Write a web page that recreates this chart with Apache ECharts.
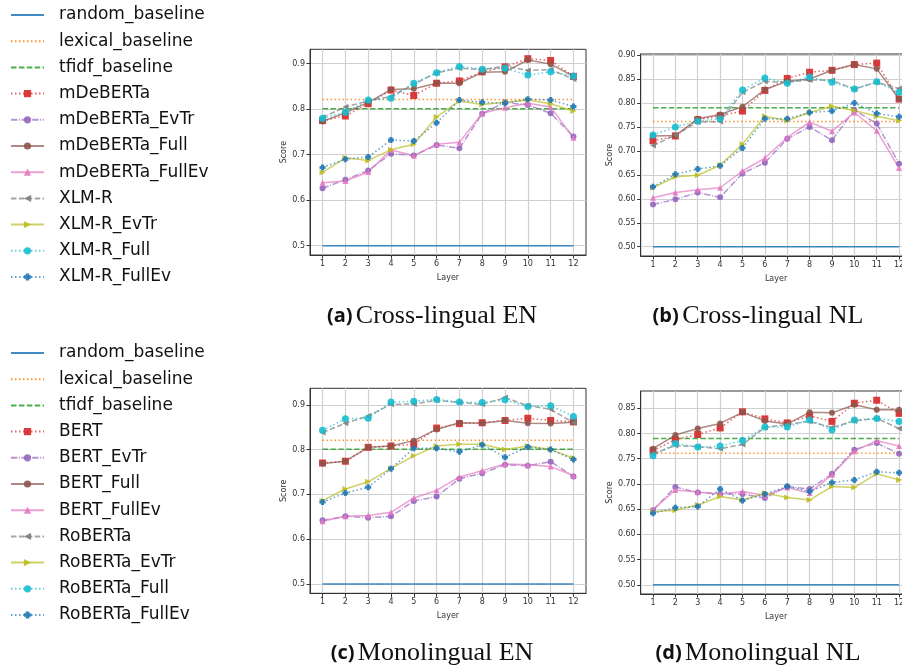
<!DOCTYPE html>
<html>
<head>
<meta charset="utf-8">
<script src="https://cdn.jsdelivr.net/npm/echarts@6/dist/echarts.min.js"></script>
<style>
  html, body { margin: 0; padding: 0; background: #fff; }
  #chart { width: 902px; height: 668px; }
</style>
</head>
<body>
<div id="chart"></div>
<script>
const layers = [1, 2, 3, 4, 5, 6, 7, 8, 9, 10, 11, 12];
const baselineNames = ['random_baseline', 'lexical_baseline', 'tfidf_baseline'];
const multiNames = ['mDeBERTa', 'mDeBERTa_EvTr', 'mDeBERTa_Full', 'mDeBERTa_FullEv', 'XLM-R', 'XLM-R_EvTr', 'XLM-R_Full', 'XLM-R_FullEv'];
const monoNames = ['BERT', 'BERT_EvTr', 'BERT_Full', 'BERT_FullEv', 'RoBERTa', 'RoBERTa_EvTr', 'RoBERTa_Full', 'RoBERTa_FullEv'];
const ticksA = [0.5, 0.6, 0.7, 0.8, 0.9];
const ticksB = [0.5, 0.55, 0.6, 0.65, 0.7, 0.75, 0.8, 0.85, 0.9];
const ticksD = [0.5, 0.55, 0.6, 0.65, 0.7, 0.75, 0.8, 0.85];

// (a) Cross-lingual EN
const baseCrossEN = [0.5, 0.821, 0.801];
const crossEN_mdeberta = [0.775, 0.785, 0.812, 0.842, 0.830, 0.857, 0.862, 0.882, 0.893, 0.911, 0.907, 0.872];
const crossEN_mdebertaEvTr = [0.626, 0.645, 0.665, 0.702, 0.698, 0.721, 0.714, 0.790, 0.815, 0.809, 0.791, 0.740];
const crossEN_mdebertaFull = [0.773, 0.792, 0.815, 0.843, 0.845, 0.857, 0.857, 0.881, 0.882, 0.908, 0.899, 0.872];
const crossEN_mdebertaFullEv = [0.638, 0.642, 0.662, 0.710, 0.698, 0.723, 0.727, 0.791, 0.803, 0.813, 0.805, 0.737];
const crossEN_xlmr = [0.782, 0.805, 0.818, 0.828, 0.855, 0.880, 0.890, 0.887, 0.895, 0.885, 0.887, 0.866];
const crossEN_xlmrEvTr = [0.661, 0.693, 0.687, 0.711, 0.723, 0.783, 0.818, 0.810, 0.815, 0.820, 0.812, 0.796];
const crossEN_xlmrFull = [0.780, 0.793, 0.820, 0.824, 0.857, 0.880, 0.894, 0.888, 0.890, 0.875, 0.882, 0.873];
const crossEN_xlmrFullEv = [0.672, 0.690, 0.695, 0.732, 0.730, 0.770, 0.820, 0.815, 0.813, 0.822, 0.820, 0.806];

// (b) Cross-lingual NL
const baseCrossNL = [0.5, 0.761, 0.790];
const crossNL_mdeberta = [0.721, 0.731, 0.765, 0.773, 0.783, 0.826, 0.851, 0.864, 0.868, 0.880, 0.883, 0.808];
const crossNL_mdebertaEvTr = [0.588, 0.599, 0.613, 0.603, 0.653, 0.675, 0.725, 0.750, 0.722, 0.785, 0.757, 0.673];
const crossNL_mdebertaFull = [0.731, 0.732, 0.767, 0.776, 0.792, 0.828, 0.845, 0.850, 0.868, 0.880, 0.871, 0.808];
const crossNL_mdebertaFullEv = [0.602, 0.613, 0.619, 0.623, 0.658, 0.685, 0.728, 0.760, 0.741, 0.780, 0.742, 0.664];
const crossNL_xlmr = [0.711, 0.733, 0.760, 0.761, 0.822, 0.845, 0.843, 0.848, 0.847, 0.829, 0.843, 0.830];
const crossNL_xlmrEvTr = [0.623, 0.646, 0.649, 0.670, 0.714, 0.772, 0.763, 0.780, 0.793, 0.784, 0.772, 0.763];
const crossNL_xlmrFull = [0.733, 0.750, 0.762, 0.767, 0.827, 0.852, 0.841, 0.854, 0.843, 0.829, 0.844, 0.822];
const crossNL_xlmrFullEv = [0.625, 0.651, 0.662, 0.669, 0.706, 0.767, 0.767, 0.780, 0.783, 0.800, 0.778, 0.771];

// (c) Monolingual EN
const baseMonoEN = [0.5, 0.821, 0.801];
const monoEN_bert = [0.770, 0.774, 0.805, 0.808, 0.812, 0.848, 0.858, 0.860, 0.865, 0.870, 0.865, 0.862];
const monoEN_bertEvTr = [0.642, 0.651, 0.648, 0.651, 0.685, 0.695, 0.735, 0.747, 0.766, 0.764, 0.773, 0.740];
const monoEN_bertFull = [0.769, 0.774, 0.805, 0.808, 0.820, 0.845, 0.860, 0.859, 0.865, 0.859, 0.858, 0.861];
const monoEN_bertFullEv = [0.640, 0.651, 0.653, 0.660, 0.692, 0.709, 0.739, 0.753, 0.768, 0.766, 0.762, 0.742];
const monoEN_roberta = [0.838, 0.859, 0.875, 0.901, 0.902, 0.910, 0.905, 0.901, 0.916, 0.898, 0.890, 0.860];
const monoEN_robertaEvTr = [0.686, 0.712, 0.728, 0.758, 0.786, 0.808, 0.812, 0.812, 0.800, 0.808, 0.800, 0.781];
const monoEN_robertaFull = [0.843, 0.869, 0.870, 0.906, 0.908, 0.912, 0.906, 0.905, 0.911, 0.896, 0.898, 0.874];
const monoEN_robertaFullEv = [0.683, 0.703, 0.716, 0.757, 0.803, 0.803, 0.795, 0.811, 0.783, 0.806, 0.800, 0.778];

// (d) Monolingual NL
const baseMonoNL = [0.5, 0.761, 0.790];
const monoNL_bert = [0.766, 0.788, 0.798, 0.811, 0.843, 0.829, 0.821, 0.835, 0.824, 0.860, 0.866, 0.840];
const monoNL_bertEvTr = [0.648, 0.694, 0.683, 0.680, 0.680, 0.672, 0.695, 0.690, 0.720, 0.768, 0.781, 0.760];
const monoNL_bertFull = [0.770, 0.797, 0.810, 0.820, 0.842, 0.825, 0.819, 0.842, 0.841, 0.857, 0.847, 0.847];
const monoNL_bertFullEv = [0.649, 0.688, 0.684, 0.680, 0.685, 0.677, 0.693, 0.682, 0.718, 0.765, 0.786, 0.775];
const monoNL_roberta = [0.760, 0.776, 0.774, 0.770, 0.778, 0.812, 0.818, 0.824, 0.812, 0.825, 0.830, 0.810];
const monoNL_robertaEvTr = [0.645, 0.648, 0.658, 0.675, 0.668, 0.682, 0.673, 0.668, 0.695, 0.693, 0.720, 0.708];
const monoNL_robertaFull = [0.756, 0.780, 0.773, 0.775, 0.786, 0.813, 0.813, 0.827, 0.807, 0.827, 0.830, 0.824];
const monoNL_robertaFullEv = [0.642, 0.653, 0.655, 0.690, 0.667, 0.680, 0.695, 0.685, 0.703, 0.708, 0.724, 0.722];

// fat plus, like matplotlib's filled 'P'
const plusPath = 'path://M1,0H3V1H4V3H3V4H1V3H0V1H1Z';
const baseStyles = [
  { color: '#1f77b4', dash: 'solid' },
  { color: '#ff7f0e', dash: [1.5, 2.5] },
  { color: '#2ca02c', dash: [5.5, 2.4] }
];
const modelStyles = [
  { color: '#d62728', dash: [1.5, 2.5], symbol: 'rect', size: 7, rotate: 0 },
  { color: '#9467bd', dash: [6.4, 1.6, 1, 1.6], symbol: 'circle', size: 6, rotate: 0 },
  { color: '#8c564b', dash: 'solid', symbol: 'circle', size: 6, rotate: 0 },
  { color: '#e377c2', dash: 'solid', symbol: 'triangle', size: 6, rotate: 0 },
  { color: '#7f7f7f', dash: [5.5, 2.4], symbol: 'triangle', size: 6, rotate: 90 },
  { color: '#bcbd22', dash: 'solid', symbol: 'triangle', size: 6, rotate: -90 },
  { color: '#17becf', dash: [1.5, 2.5], symbol: 'circle', size: 7, rotate: 0 },
  { color: '#1f77b4', dash: [1.5, 2.5], symbol: plusPath, size: 6, rotate: 0 }
];

const panels = [
  { base: baseCrossEN, names: multiNames, ymin: 0.4794, ymax: 0.9316, ticks: ticksA, dec: 1,
    models: [crossEN_mdeberta, crossEN_mdebertaEvTr, crossEN_mdebertaFull, crossEN_mdebertaFullEv, crossEN_xlmr, crossEN_xlmrEvTr, crossEN_xlmrFull, crossEN_xlmrFullEv] },
  { base: baseCrossNL, names: multiNames, ymin: 0.4807, ymax: 0.9020, ticks: ticksB, dec: 2,
    models: [crossNL_mdeberta, crossNL_mdebertaEvTr, crossNL_mdebertaFull, crossNL_mdebertaFullEv, crossNL_xlmr, crossNL_xlmrEvTr, crossNL_xlmrFull, crossNL_xlmrFullEv] },
  { base: baseMonoEN, names: monoNames, ymin: 0.4792, ymax: 0.9368, ticks: ticksA, dec: 1,
    models: [monoEN_bert, monoEN_bertEvTr, monoEN_bertFull, monoEN_bertFullEv, monoEN_roberta, monoEN_robertaEvTr, monoEN_robertaFull, monoEN_robertaFullEv] },
  { base: baseMonoNL, names: monoNames, ymin: 0.4817, ymax: 0.8843, ticks: ticksD, dec: 2,
    models: [monoNL_bert, monoNL_bertEvTr, monoNL_bertFull, monoNL_bertFullEv, monoNL_roberta, monoNL_robertaEvTr, monoNL_robertaFull, monoNL_robertaFullEv] }
];

const grids = [
  { left: 310, top: 49.3, width: 276, height: 205.7 },
  { left: 640.7, top: 54, width: 270.7, height: 202 },
  { left: 310, top: 388.3, width: 276, height: 205 },
  { left: 640.7, top: 391, width: 270.7, height: 203 }
];
const scoreGap = [21, 25, 21, 25];

const tickFont = { fontFamily: 'DejaVu Sans', fontSize: 8, color: '#333' };

const xAxes = [], yAxes = [], series = [];
panels.forEach((p, i) => {
  xAxes.push({
    gridIndex: i, type: 'value', min: 0.45, max: 12.55,
    name: 'Layer', nameLocation: 'middle', nameGap: 19,
    nameTextStyle: tickFont,
    axisLine: { show: true, lineStyle: { color: '#333', width: 1 } },
    axisTick: { show: true, length: 3.5, lineStyle: { color: '#333' }, customValues: layers },
    axisLabel: { ...tickFont, margin: 5, customValues: layers },
    splitLine: { show: true, lineStyle: { color: '#d0d0d0', width: 1.2 } }
  });
  yAxes.push({
    gridIndex: i, type: 'value', min: p.ymin, max: p.ymax,
    name: 'Score', nameLocation: 'middle', nameGap: scoreGap[i],
    nameTextStyle: tickFont,
    axisLine: { show: true, lineStyle: { color: '#333', width: 1 } },
    axisTick: { show: true, length: 3.5, lineStyle: { color: '#333' }, customValues: p.ticks },
    axisLabel: { ...tickFont, margin: 5, customValues: p.ticks, formatter: v => v.toFixed(p.dec) },
    splitLine: { show: true, lineStyle: { color: '#d0d0d0', width: 1 } }
  });
  p.base.forEach((v, k) => {
    series.push({
      name: baselineNames[k], type: 'line', xAxisIndex: i, yAxisIndex: i,
      data: layers.map(l => [l, v]), symbol: 'none', silent: true,
      itemStyle: { color: 'rgba(0,0,0,0)', borderWidth: 0 },
      lineStyle: { color: baseStyles[k].color, width: 1.5, type: baseStyles[k].dash, opacity: 0.85 }
    });
  });
  p.models.forEach((vals, k) => {
    const s = modelStyles[k];
    series.push({
      name: p.names[k], type: 'line', xAxisIndex: i, yAxisIndex: i,
      data: layers.map((l, j) => [l, vals[j]]),
      symbol: s.symbol, symbolSize: s.size, symbolRotate: s.rotate, showSymbol: true,
      color: s.color,
      itemStyle: { color: s.color, opacity: 0.9 },
      lineStyle: { color: s.color, width: 1.5, type: s.dash, opacity: 0.7 }
    });
  });
});

function legendFor(top, names) {
  return {
    orient: 'vertical', left: 10, top: top, padding: 0,
    itemWidth: 33, itemHeight: 9, itemGap: 8.2,
    data: baselineNames.map(n => ({ name: n, itemStyle: { opacity: 0 } })).concat(names),
    textStyle: { fontFamily: 'DejaVu Sans', fontSize: 17, lineHeight: 18, color: '#111', padding: [0, 0, 0, 10] },
    selectedMode: false
  };
}

const captions = [
  { x: 432, y: 316, label: '(a)', text: 'Cross-lingual EN' },
  { x: 758, y: 316, label: '(b)', text: 'Cross-lingual NL' },
  { x: 432, y: 653, label: '(c)', text: 'Monolingual EN' },
  { x: 758, y: 653, label: '(d)', text: 'Monolingual NL' }
];

const chart = echarts.init(document.getElementById('chart'), null, { renderer: 'canvas' });
chart.setOption({
  backgroundColor: '#fff',
  animation: false,
  grid: grids.map(g => ({ ...g, show: true, borderColor: '#333', borderWidth: 1, backgroundColor: '#fff', outerBoundsMode: 'none', containLabel: false })),
  xAxis: xAxes,
  yAxis: yAxes,
  legend: [legendFor(6, multiNames), legendFor(344, monoNames)],
  graphic: captions.map(c => ({
    type: 'text', x: c.x, y: c.y,
    style: {
      text: '{b|' + c.label + '} {s|' + c.text + '}',
      align: 'center', verticalAlign: 'middle',
      rich: {
        b: { fontFamily: 'Open Sans', fontWeight: 'bold', fontSize: 20, fill: '#111' },
        s: { fontFamily: 'Liberation Serif', fontSize: 26, fill: '#111' }
      }
    }
  })),
  series: series
});
</script>
</body>
</html>
